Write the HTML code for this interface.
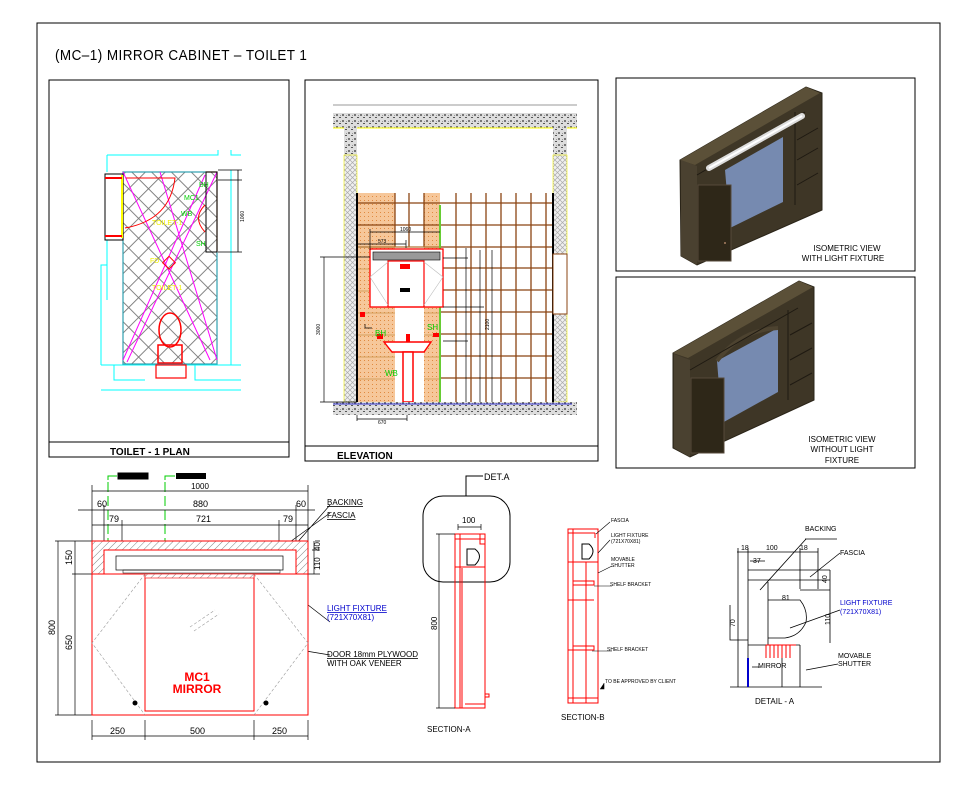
<!DOCTYPE html>
<html><head><meta charset="utf-8"><style>
html,body{margin:0;padding:0;background:#fff;}
svg{display:block;font-family:"Liberation Sans",sans-serif;}
.t{font-size:8px;fill:#000;}
</style></head><body>
<svg width="972" height="795" viewBox="0 0 972 795" xmlns="http://www.w3.org/2000/svg">
<defs>
<pattern id="diag" width="14" height="14" patternUnits="userSpaceOnUse" patternTransform="rotate(45)">
<rect width="14" height="14" fill="#fff"/><line x1="0" y1="0" x2="0" y2="14" stroke="#777" stroke-width="1.8"/><line x1="0" y1="0" x2="14" y2="0" stroke="#777" stroke-width="1.8"/></pattern>
<pattern id="conc" width="6" height="6" patternUnits="userSpaceOnUse">
<rect width="6" height="6" fill="#ddd"/><rect x="0" y="0" width="2" height="2" fill="#777"/><rect x="3" y="3" width="2" height="1" fill="#555"/><rect x="4" y="1" width="1" height="1" fill="#999"/></pattern>
<pattern id="xh" width="5" height="5" patternUnits="userSpaceOnUse">
<rect width="5" height="5" fill="#f0f0f0"/><path d="M0 0L5 5M5 0L0 5" stroke="#aaa" stroke-width="0.7"/></pattern>
<pattern id="org" width="4" height="4" patternUnits="userSpaceOnUse">
<rect width="4" height="4" fill="#f6c79a"/><rect width="1" height="1" fill="#e08a40"/></pattern>
<pattern id="hat" width="5" height="5" patternUnits="userSpaceOnUse" patternTransform="rotate(45)">
<rect width="5" height="5" fill="#fff"/><line x1="0" y1="0" x2="0" y2="5" stroke="#666" stroke-width="0.8"/></pattern>
</defs>
<rect x="37" y="23" width="903" height="739" fill="none" stroke="#000" stroke-width="1"/>
<text x="55" y="60" font-size="15" fill="#000" letter-spacing="0.5" transform="translate(55 0) scale(0.9 1) translate(-55 0)">(MC–1)  MIRROR  CABINET  –  TOILET  1</text>

<!-- PLAN -->
<rect x="49" y="80" width="240" height="377" fill="none" stroke="#000"/>
<line x1="49" y1="442" x2="289" y2="442" stroke="#000"/>
<text x="110" y="455" font-size="10" font-weight="bold">TOILET - 1 PLAN</text>
<path d="M107 155H218V150M231 150V155H241" fill="none" stroke="#0ff"/>
<path d="M107 155V172M107 240V300M107 265H101V365M101 365H241M114 365V380H145M195 365V380H241M101 390H241" fill="none" stroke="#0ff"/>
<path d="M231 170V365H241" fill="none" stroke="#0ff"/>
<rect x="123" y="172" width="94" height="192" fill="url(#diag)" stroke="#8b4513" stroke-width="1.2"/>
<rect x="123" y="172" width="94" height="192" fill="none" stroke="#0cf" stroke-width="0.8"/>
<path d="M123 172L210 360M217 172L127 362M123 360L205 175M160 172L217 360" fill="none" stroke="#f0f" stroke-width="1"/>
<rect x="105" y="174" width="18" height="66" fill="#fff" stroke="#000"/>
<line x1="122" y1="175" x2="122" y2="238" stroke="#ff0" stroke-width="2"/>
<path d="M105 178H122M105 236H122" stroke="#f00" stroke-width="2"/>
<path d="M126 178H175Q170 220 125 228" fill="none" stroke="#f00"/>
<text x="152" y="225" font-size="7" fill="#ee0">TOILET-1</text>
<text x="150" y="263" font-size="7" fill="#ee0">FD</text>
<text x="152" y="290" font-size="7" fill="#ee0">TOILET-1</text>
<rect x="165" y="258" width="9" height="9" fill="none" stroke="#f00" transform="rotate(45 169 262)"/>
<text x="199" y="187" font-size="7" fill="#0c0">BH</text>
<text x="184" y="200" font-size="7" fill="#0c0">MC1</text>
<text x="181" y="216" font-size="7" fill="#0c0">WB</text>
<text x="196" y="246" font-size="7" fill="#0c0">SH</text>
<rect x="206" y="172" width="11" height="80" fill="none" stroke="#000"/>
<path d="M205 205Q192 218 205 232" fill="none" stroke="#f00"/>
<path d="M218 170H242M238 170V252M218 252H242M218 180H242" fill="none" stroke="#000" stroke-width="0.8"/>
<text x="244" y="222" font-size="5" transform="rotate(-90 244 222)">1060</text>
<ellipse cx="170" cy="330" rx="11" ry="17" fill="none" stroke="#f00" stroke-width="1.5"/>
<rect x="158" y="345" width="24" height="18" fill="none" stroke="#f00" stroke-width="1.5"/>
<rect x="156" y="365" width="30" height="13" fill="none" stroke="#f00" stroke-width="1.2"/>

<!-- ELEVATION -->
<rect x="305" y="80" width="293" height="381" fill="none" stroke="#000"/>
<line x1="305" y1="446" x2="598" y2="446" stroke="#000"/>
<text x="337" y="459" font-size="10" font-weight="bold">ELEVATION</text>
<path d="M333 105H577" stroke="#999"/>
<rect x="333" y="113" width="244" height="15" fill="url(#conc)"/>
<path d="M333 128H344M357 128H553M567 128H577" stroke="#ff0" stroke-width="1"/>
<rect x="344" y="128" width="13" height="27" fill="url(#conc)"/>
<rect x="553" y="128" width="14" height="27" fill="url(#conc)"/>
<rect x="344" y="155" width="13" height="247" fill="url(#xh)" stroke="#ee0" stroke-width="0.6"/>
<rect x="553" y="155" width="14" height="247" fill="url(#xh)" stroke="#ee0" stroke-width="0.6"/>
<rect x="357" y="193" width="196" height="209" fill="#fff"/>
<rect x="357" y="193" width="38" height="209" fill="url(#org)"/>
<rect x="424" y="193" width="16" height="209" fill="url(#org)"/>
<g stroke="#8b4513" stroke-width="1.3">
<path d="M357 203H553M357 225H553M357 247H553M440 268H553M440 290H553M440 312H553M440 334H553M440 356H553M440 378H553"/>
<path d="M395 193V247M409 193V247M424 193V247M456 193V402M471 193V402M486 193V402M501 193V402M516 193V402M531 193V402M546 193V402"/>
</g>
<path d="M357 247H440M357 269H395M357 291H395M357 313H395M357 335H395M357 357H395M357 379H395M424 269H440M424 291H440M424 313H440M424 335H440M424 357H440M424 379H440" stroke="#c9954e" stroke-width="0.8"/>
<line x1="440" y1="205" x2="440" y2="402" stroke="#6c3" stroke-width="2"/>
<line x1="357" y1="193" x2="357" y2="402" stroke="#000" stroke-width="2"/>
<line x1="553" y1="193" x2="553" y2="402" stroke="#000" stroke-width="2"/>
<rect x="553" y="254" width="14" height="60" fill="#fff" stroke="#8b4513"/>
<rect x="370" y="249" width="73" height="58" fill="#fff" stroke="#f00" stroke-width="1.3"/>
<rect x="373" y="252" width="67" height="8" fill="#999" stroke="#000" stroke-width="0.6"/>
<rect x="388" y="261" width="36" height="46" fill="none" stroke="#f00" stroke-width="1.2"/>
<rect x="400" y="264" width="10" height="5" fill="#f00"/>
<rect x="400" y="288" width="10" height="4" fill="#000"/>
<path d="M370 277L388 262M370 277L388 305M443 277L424 262M443 277L424 305" stroke="#bbb" stroke-width="0.6"/>
<path d="M384 342H431L424 352H392Z" fill="#fff" stroke="#f00" stroke-width="1.4"/>
<rect x="403" y="352" width="10" height="50" fill="#fff" stroke="#f00" stroke-width="1.5"/>
<rect x="406" y="334" width="4" height="8" fill="#f00"/>
<rect x="377" y="334" width="6" height="5" fill="#f00"/><rect x="433" y="333" width="6" height="4" fill="#f00"/>
<rect x="360" y="312" width="5" height="5" fill="#f00"/>
<text x="375" y="336" font-size="8" fill="#0c0">BH</text>
<text x="427" y="330" font-size="8" fill="#0c0">SH</text>
<text x="385" y="376" font-size="8" fill="#0c0">WB</text>
<rect x="333" y="402" width="244" height="13" fill="url(#conc)"/>
<line x1="333" y1="404" x2="572" y2="404" stroke="#00c" stroke-width="0.8"/>
<g stroke="#000" stroke-width="0.7" fill="none">
<path d="M320 257H370M324 257V402M320 402H357M370 232H440M370 229V250M358 244H406M406 240V248M466 248V402M480 250V402M492 250V402M443 258H468M443 307H484M443 341H468M357 415V421M407 415V421M357 419H407M365 324V328H372"/>
</g>
<text x="400" y="231" font-size="5">1060</text><text x="378" y="243" font-size="5">573</text>
<text x="320" y="335" font-size="5" transform="rotate(-90 320 335)">3000</text>
<text x="378" y="424" font-size="5">670</text>
<text x="489" y="330" font-size="5" transform="rotate(-90 489 330)">2100</text>

<!-- ISO TOP -->
<rect x="616" y="78" width="299" height="193" fill="none" stroke="#000"/>
<polygon points="680,160 806,87 822,93 822,210 697,265 681,256" fill="#3e3626" stroke="#2a2418"/>
<polygon points="680,160 806,87 820,93 695,165" fill="#5b5038"/>
<polygon points="681,160 697,166 697,265 681,256" fill="#4a4130"/>
<polygon points="725,170 783,137 783,202 730,228" fill="#768ab0"/>
<path d="M697 175L805 112M795 112V205M797 140L818 128M797 160L818 148M797 185L818 173" stroke="#1f1a12" stroke-width="1" fill="none"/>
<rect x="698" y="185" width="33" height="76" fill="#2e2718" stroke="#55493a"/>
<rect x="724" y="242" width="2" height="2" fill="#8a6a50"/>
<line x1="709" y1="168" x2="802" y2="116" stroke="#ddd" stroke-width="6" stroke-linecap="round"/>
<line x1="709" y1="168" x2="802" y2="116" stroke="#fff" stroke-width="2"/>
<text x="847" y="251" font-size="8" text-anchor="middle">ISOMETRIC VIEW</text>
<text x="843" y="261" font-size="8" text-anchor="middle">WITH LIGHT FIXTURE</text>
<!-- ISO BOTTOM -->
<rect x="616" y="277" width="299" height="191" fill="none" stroke="#000"/>
<polygon points="673,353 799,281 814,287 814,400 690,457 673,448" fill="#3e3626" stroke="#2a2418"/>
<polygon points="673,353 799,281 813,287 688,358" fill="#5b5038"/>
<polygon points="674,354 690,360 690,457 674,448" fill="#4a4130"/>
<polygon points="717,361 778,328 778,392 722,423" fill="#768ab0"/>
<path d="M717,361 Q740,330 778,328" fill="none" stroke="#4d4330" stroke-width="4"/>
<path d="M690 370L798 308M788 310V400M790 335L812 323M790 360L812 348M790 385L812 373" stroke="#1f1a12" stroke-width="1" fill="none"/>
<rect x="691" y="378" width="33" height="75" fill="#2e2718" stroke="#55493a"/>
<text x="842" y="442" font-size="8" text-anchor="middle">ISOMETRIC VIEW</text>
<text x="842" y="452" font-size="8" text-anchor="middle">WITHOUT LIGHT</text>
<text x="842" y="463" font-size="8" text-anchor="middle">FIXTURE</text>

<!-- FRONT VIEW -->
<rect x="118" y="473" width="30" height="6" fill="#000" stroke="#000"/><rect x="176" y="473" width="30" height="6" fill="#000"/>
<path d="M108 480V476H117M165 480V476H175" stroke="#0c0" fill="none"/>
<path d="M108 482V587M165 482V587" stroke="#0c0" stroke-dasharray="10 4"/>
<g stroke="#000" stroke-width="0.7" fill="none">
<path d="M92 491H308M92 485V541M308 485V541M78 510H315M104 505V541M296 505V541M92 525H308M122 520V541M279 520V541"/>
<path d="M55 541H92M55 715H92M58 541V715M72 574H92M75 541V715M115 550V582M320 541H315M320 550H312M320 574H306M314 541V574M263 570L330 622M295 545L330 505M276 552L330 513M240 640L330 655"/>
<path d="M92 720V740M145 720V740M254 720V740M308 720V740M92 736H308"/>
</g>
<text x="200" y="489" class="t" font-size="9" text-anchor="middle">1000</text>
<text x="97" y="507" font-size="9">60</text><text x="193" y="507" font-size="9">880</text><text x="296" y="507" font-size="9">60</text>
<text x="109" y="522" font-size="9">79</text><text x="196" y="522" font-size="9">721</text><text x="283" y="522" font-size="9">79</text>
<text x="72" y="565" font-size="9" transform="rotate(-90 72 565)">150</text>
<text x="55" y="635" font-size="9" transform="rotate(-90 55 635)">800</text>
<text x="72" y="650" font-size="9" transform="rotate(-90 72 650)">650</text>
<text x="113" y="570" font-size="8" transform="rotate(-90 113 570)">70</text>
<text x="320" y="570" font-size="8" transform="rotate(-90 320 570)">110</text>
<text x="320" y="551" font-size="8" transform="rotate(-90 320 551)">40</text>
<text x="110" y="734" font-size="9">250</text><text x="190" y="734" font-size="9">500</text><text x="272" y="734" font-size="9">250</text>
<rect x="92" y="541" width="216" height="33" fill="url(#hat)" stroke="#f00"/>
<rect x="104" y="550" width="192" height="24" fill="#fff" stroke="#f00"/>
<rect x="116" y="556" width="167" height="14" fill="#fff" stroke="#000" stroke-width="0.7"/>
<rect x="123" y="570" width="157" height="3" fill="none" stroke="#000" stroke-width="0.5"/>
<rect x="92" y="574" width="216" height="141" fill="#fff" stroke="#f00"/>
<rect x="145" y="574" width="109" height="137" fill="none" stroke="#f00"/>
<rect x="145" y="574" width="109" height="4" fill="url(#hat)" stroke="#f00" stroke-width="0.6"/>
<path d="M145 574L92 643L145 715M254 574L308 643L254 715M190 627L215 610M194 631L219 614" stroke="#999" stroke-width="0.6" stroke-dasharray="3 2" fill="none"/>
<circle cx="135" cy="703" r="2.5" fill="#000"/><circle cx="266" cy="703" r="2.5" fill="#000"/>
<text x="197" y="681" font-size="12" font-weight="bold" fill="#f00" text-anchor="middle">MC1</text>
<text x="197" y="693" font-size="12" font-weight="bold" fill="#f00" text-anchor="middle">MIRROR</text>
<text x="327" y="505" font-size="8" text-decoration="underline">BACKING</text>
<text x="327" y="518" font-size="8" text-decoration="underline">FASCIA</text>
<text x="327" y="611" font-size="8" fill="#00c" text-decoration="underline">LIGHT FIXTURE</text>
<text x="327" y="620" font-size="8" fill="#00c">(721X70X81)</text>
<text x="327" y="657" font-size="8" text-decoration="underline">DOOR 18mm PLYWOOD</text>
<text x="327" y="666" font-size="8">WITH OAK VENEER</text>

<!-- SECTION A -->
<path d="M466 496V476H483" stroke="#000" fill="none"/>
<text x="484" y="480" font-size="9">DET.A</text>
<rect x="423" y="496" width="87" height="86" rx="20" fill="none" stroke="#000"/>
<g stroke="#f00" fill="none">
<rect x="455" y="534" width="30" height="174"/><rect x="455" y="534" width="30" height="5"/>
<path d="M460 534V708M462 568V708M455 567H485M480 534V544H485M465 704H485"/>
<rect x="485" y="694" width="4" height="3"/>
</g>
<path d="M467 549H475Q484 556 475 565H467Z" fill="#fff" stroke="#000"/>
<g stroke="#000" stroke-width="0.7"><path d="M439 534V708M436 534H455M436 708H455M458 527H481M458 524V530M481 524V530"/></g>
<text x="462" y="523" font-size="8">100</text>
<text x="437" y="630" font-size="8" transform="rotate(-90 437 630)">800</text>
<text x="427" y="732" font-size="8">SECTION-A</text>
<!-- SECTION B -->
<g stroke="#f00" fill="none">
<rect x="568" y="529" width="30" height="174"/><path d="M568 533H595M573 529V703M568 562H598M568 600H594M568 650H594M568 698H598M595 533V538M586 562V703"/>
<rect x="573" y="581" width="21" height="4"/><rect x="573" y="646" width="21" height="4"/>
</g>
<path d="M582 544H589Q597 551 589 559H582Z" fill="#fff" stroke="#000"/>
<g stroke="#000" stroke-width="0.6"><path d="M596 534L610 522M598 553L610 540M598 573L612 566M594 586H612M592 651H612M604 683V689H600"/></g>
<g font-size="5"><text x="611" y="522">FASCIA</text><text x="611" y="537">LIGHT FIXTURE</text><text x="611" y="543">(721X70X81)</text><text x="611" y="561">MOVABLE</text><text x="611" y="567">SHUTTER</text><text x="610" y="586">SHELF BRACKET</text><text x="607" y="651">SHELF BRACKET</text><text x="605" y="683">TO BE APPROVED BY CLIENT</text></g>
<text x="561" y="720" font-size="8">SECTION-B</text>

<!-- DETAIL A -->
<g stroke="#000" stroke-width="0.8" fill="none">
<path d="M737 552H818M738 548V687M748 548V687M800 548V589M818 548V589M748 570H830M748 580H830M800 590H830M748 645H800M782 645V687M800 645V687M768 582V645M768 600H800Q808 610 806 622Q800 636 785 638H768M730 687H822M730 605V640H748M750 561H765"/>
<path d="M830 570V643M806 539L760 590M840 553L810 577M840 610L790 628M838 664L806 670M752 667H760"/>
<path d="M805 539H837"/>
</g>
<path d="M766 645H796" stroke="#f00" stroke-width="1"/><path d="M766 645V658M770 645V658M774 645V658M778 645V658M782 645V658M786 645V658M790 645V658" stroke="#f00" stroke-width="1"/>
<line x1="748" y1="658" x2="748" y2="687" stroke="#00c" stroke-width="2"/>
<g font-size="7"><text x="805" y="531">BACKING</text><text x="840" y="555">FASCIA</text><text x="840" y="605" fill="#00c">LIGHT FIXTURE</text><text x="840" y="614" fill="#00c">(721X70X81)</text><text x="838" y="658">MOVABLE</text><text x="838" y="666">SHUTTER</text><text x="758" y="668">MIRROR</text>
<text x="741" y="550">18</text><text x="766" y="550">100</text><text x="800" y="550">18</text><text x="753" y="563">37</text><text x="782" y="600">81</text></g>
<text x="827" y="583" font-size="7" transform="rotate(-90 827 583)">40</text>
<text x="830" y="625" font-size="7" transform="rotate(-90 830 625)">110</text>
<text x="735" y="627" font-size="7" transform="rotate(-90 735 627)">70</text>
<text x="755" y="704" font-size="8">DETAIL - A</text>
</svg>
</body></html>
